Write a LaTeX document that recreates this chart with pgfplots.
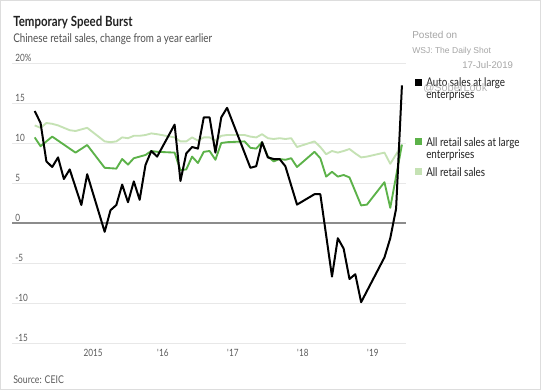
\documentclass[border=0pt]{standalone}
\usepackage{pgfplots}
\pgfplotsset{compat=1.18}
\usepackage{fontspec}
\setmainfont{Lato}
\newfontfamily\nar[FakeStretch=0.82]{Lato}
\newfontfamily\wm{Liberation Sans}
\definecolor{greenc}{RGB}{92,178,73}
\definecolor{lightc}{RGB}{197,226,180}
\definecolor{gridc}{RGB}{232,232,232}
\definecolor{zeroc}{RGB}{140,140,140}
\definecolor{labc}{RGB}{90,90,90}
\definecolor{titc}{RGB}{34,34,34}
\definecolor{subc}{RGB}{80,80,80}
\definecolor{wmc}{RGB}{165,165,165}
\tikzset{
  xlab/.style={anchor=base, inner sep=0pt, text=labc, font={\nar\fontsize{7.5pt}{9pt}\selectfont}, yshift=-9.75pt},
  leg/.style={anchor=base west, inner sep=0pt, text=titc, font={\nar\fontsize{9pt}{11pt}\selectfont}}
}

\pgfplotstableread{
m v
-10 14.0
-9 12.5
-8 7.7
-7 7.0
-6 8.2
-5 5.5
-4 6.7
-2 2.25
-1 6.1
2 -1.1
3 1.6
4 2.25
5 4.8
6 2.6
7 5.2
8 2.9
9 7.25
10 9.0
11 8.3
14 12.3
15 5.25
16 8.7
17 9.5
18 9.3
19 13.2
20 13.2
21 8.8
22 13.2
23 14.4
27 6.9
28 7.1
29 10.1
30 8.2
31 8.0
32 8.0
33 7.1
35 2.3
38 3.6
39 3.6
41 -6.7
42 -1.9
43 -3.2
44 -7.0
45 -6.4
46 -9.9
50 -4.3
51 -1.9
52 1.8
53 17.2
}\auto

\pgfplotstableread{
m v
-10 10.7
-9 9.6
-7 10.8
-3 8.8
-1 9.75
2 6.9
4 6.8
5 8.0
6 7.3
7 8.1
8 8.3
9 8.5
10 9.0
11 8.9
14 8.8
15 6.6
16 6.7
17 8.3
18 7.5
19 8.9
20 9.0
21 7.9
22 10.0
23 10.1
26 10.2
27 9.4
28 9.3
29 10.1
30 8.3
31 7.7
32 8.0
33 7.9
34 8.1
35 7.0
38 8.9
39 8.1
40 5.8
41 6.4
42 5.8
43 6.0
44 5.7
46 2.2
47 2.3
50 5.1
51 1.9
53 9.8
}\large

\pgfplotstableread{
m v
-10 12.2
-9 11.9
-8 12.5
-7 12.4
-6 12.2
-5 11.9
-4 11.6
-3 11.5
-2 11.7
-1 11.9
2 10.2
3 10.1
4 10.2
5 10.7
6 10.6
7 10.9
8 10.9
9 11.0
10 11.2
11 11.1
14 10.7
15 10.2
16 10.2
17 10.7
18 10.3
19 10.7
20 10.7
21 10.3
22 10.9
23 11.0
26 11.0
27 10.8
28 10.7
29 11.1
30 10.6
31 10.5
32 10.6
33 10.5
34 10.6
35 9.5
38 10.2
39 9.5
40 8.6
41 9.0
42 8.8
43 9.0
44 9.25
45 8.7
46 8.2
47 8.3
50 8.8
51 7.4
53 9.75
}\allret

\begin{document}
\begin{tikzpicture}[x=0.75pt,y=0.75pt]
\useasboundingbox (0,0) rectangle (541,390);
\fill[white] (0,0) rectangle (541,390);
\draw[draw={rgb,255:red,221;green,221;blue,221}, line width=0.75pt] (0.5,0.5) rectangle (540.5,389.5);
% titles
\node[anchor=base west, inner sep=0pt, text=titc, font={\nar\bfseries\fontsize{10.5pt}{12pt}\selectfont}] at (13,363) {Temporary Speed Burst};
\node[anchor=base west, inner sep=0pt, text=subc, font={\nar\fontsize{9pt}{11pt}\selectfont}] at (13,348) {Chinese retail sales, change from a year earlier};
\node[anchor=base west, inner sep=0pt, text=labc, font={\nar\fontsize{8pt}{10pt}\selectfont}] at (13,6.5) {Source: CEIC};
% watermark
\node[anchor=base west, inner sep=0pt, text=wmc, font={\wm\fontsize{7.5pt}{9pt}\selectfont}] at (412,351.7) {Posted on};
\node[anchor=base west, inner sep=0pt, text=wmc, font={\wm\fontsize{6.4pt}{8pt}\selectfont}] at (412,336) {WSJ: The Daily Shot};
\node[anchor=base west, inner sep=0pt, text=wmc, font={\wm\fontsize{7.2pt}{8pt}\selectfont}] at (462,321) {17-Jul-2019};
% legend
\fill[black] (415,304) rectangle (422,311);
\fill[greenc] (415,245) rectangle (422,252);
\fill[lightc] (415,215) rectangle (422,222);
\node[leg] at (426,304) {Auto sales at large};
\node[leg] at (426,292) {enterprises};
\node[leg] at (426,244) {All retail sales at large};
\node[leg] at (426,231.7) {enterprises};
\node[leg] at (426,214) {All retail sales};
\node[anchor=base west, inner sep=0pt, text=wmc, opacity=0.8, font={\wm\fontsize{8.2pt}{9pt}\selectfont}] at (423,299) {@SoberLook};
\begin{axis}[at={(9pt,35.25pt)}, anchor=south west, scale only axis,
  width=295.5pt, height=210pt,
  xmin=-13.9, xmax=53.7, ymin=-15, ymax=20,
  axis line style={draw=none},
  ytick={-15,-10,-5,0,5,10,15,20},
  yticklabels={\mbox{-15},\mbox{-10},\mbox{-5},\mbox{0},\mbox{5},\mbox{10},\mbox{15},\mbox{20\%}},
  yticklabel style={anchor=base west, inner sep=0pt, text=labc, font={\nar\fontsize{7.5pt}{9pt}\selectfont}, xshift=2.25pt, yshift=1.3pt},
  xtick=\empty,
  major tick length=0pt,
  ymajorgrids, grid style={gridc, line width=0.75pt},
  clip=false]
\draw[zeroc, line width=1.1pt] (axis cs:-13.9,0) -- (axis cs:53.7,0);
\addplot[lightc, line width=1.4pt, line join=round] table[x=m,y=v] {\allret};
\addplot[greenc, line width=1.4pt, line join=round] table[x=m,y=v] {\large};
\addplot[black, line width=1.5pt, line join=round] table[x=m,y=v] {\auto};
\node[xlab] at (axis cs:0,-15) {2015};
\node[xlab] at (axis cs:12,-15) {\textquotesingle16};
\node[xlab] at (axis cs:24,-15) {\textquotesingle17};
\node[xlab] at (axis cs:36,-15) {\textquotesingle18};
\node[xlab] at (axis cs:48,-15) {\textquotesingle19};
\end{axis}
\end{tikzpicture}
\end{document}
